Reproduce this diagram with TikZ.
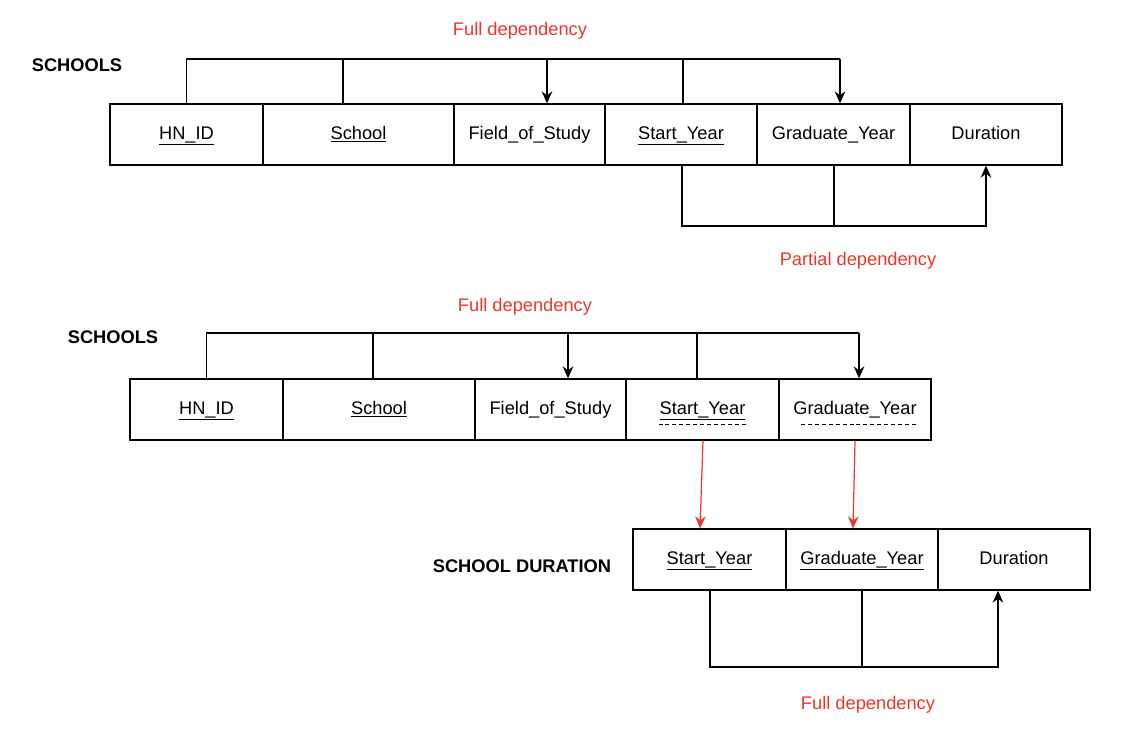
\documentclass[tikz,border=0pt]{standalone}
\usepackage{fontspec}
\setmainfont{Liberation Sans}
\usetikzlibrary{arrows.meta,calc}
\definecolor{depred}{RGB}{233,55,42}

\tikzset{
  cell/.style={draw, line width=1pt, inner sep=0pt, text height=10pt, text depth=3pt, minimum height=45.75pt, minimum width={#1*0.75pt}},
  dep/.style={line width=1pt},
  arr/.style={line width=1pt, -{Stealth[length=9pt, width=8pt, inset=3pt]}},
  redarr/.style={depred, line width=0.9pt, -{Stealth[length=9pt, width=8pt, inset=3pt]}},
  keydash/.style={line width=0.7pt, dash pattern=on 3pt off 2.2pt},
  deplabel/.style={text=depred},
  tablename/.style={font=\fontsize{13.7}{16}\selectfont\bfseries}
}

\begin{document}
\begin{tikzpicture}[x=0.75pt, y=-0.75pt, font=\fontsize{13.7}{16}\selectfont]
    \useasboundingbox (0,0) rectangle (1132,730);

    % first SCHOOLS table
    \node [tablename] (name1) at (77,65) {SCHOOLS};
    \node [cell=153] (hn1) at (186.5,134.5) {\underline{HN\_ID}};
    \node [cell=191] (sc1) at (358.5,134.5) {\underline{School}};
    \node [cell=151] (fs1) at (529.5,134.5) {Field\_of\_Study};
    \node [cell=152] (st1) at (681,134.5) {\underline{Start\_Year}};
    \node [cell=153] (gy1) at (833.5,134.5) {Graduate\_Year};
    \node [cell=152] (du1) at (986,134.5) {Duration};

    \coordinate (b1s) at (343,59);
    \coordinate (b1f) at (547,59);
    \coordinate (b1y) at (683,59);
    \coordinate (b1g) at (840,59);
    \draw [dep] (hn1.north) |- (b1g);
    \draw [dep] (b1s) -- (b1s |- sc1.north);
    \draw [dep] (b1y) -- (b1y |- st1.north);
    \draw [arr] (b1f) -- (b1f |- fs1.north);
    \draw [arr] (b1g) -- (b1g |- gy1.north);
    \node [deplabel] (full1) at (520,31) {Full dependency};

    \coordinate (p1s) at (682,226);
    \coordinate (p1g) at (834,226);
    \draw [dep] (p1s |- st1.south) -- (p1s) -- (p1g);
    \draw [dep] (p1g |- gy1.south) -- (p1g);
    \draw [arr] (p1g) -| (du1.south);
    \node [deplabel] (part1) at (858,261) {Partial dependency};

    % second SCHOOLS table
    \node [tablename] (name2) at (113,337) {SCHOOLS};
    \node [cell=153] (hn2) at (206.5,409.5) {\underline{HN\_ID}};
    \node [cell=192] (sc2) at (379,409.5) {\underline{School}};
    \node [cell=151] (fs2) at (550.5,409.5) {Field\_of\_Study};
    \node [cell=153] (st2) at (702.5,409.5) {\underline{Start\_Year}};
    \node [cell=152] (gy2) at (855,409.5) {Graduate\_Year};
    \draw [keydash] ($(st2.center)+(-44,14.5)$) -- ($(st2.center)+(43,14.5)$);
    \draw [keydash] ($(gy2.center)+(-54,14.5)$) -- ($(gy2.center)+(61,14.5)$);

    \coordinate (b2s) at (373,333);
    \coordinate (b2f) at (568,333);
    \coordinate (b2y) at (697,333);
    \coordinate (b2g) at (859,333);
    \draw [dep] (hn2.north) |- (b2g);
    \draw [dep] (b2s) -- (b2s |- sc2.north);
    \draw [dep] (b2y) -- (b2y |- st2.north);
    \draw [arr] (b2f) -- (b2f |- fs2.north);
    \draw [arr] (b2g) -- (b2g |- gy2.north);
    \node [deplabel] (full2) at (525,307) {Full dependency};

    % SCHOOL DURATION table
    \node [tablename] (name3) at (522,566) {SCHOOL DURATION};
    \node [cell=153] (st3) at (709.5,559.5) {\underline{Start\_Year}};
    \node [cell=152] (gy3) at (862,559.5) {\underline{Graduate\_Year}};
    \node [cell=152] (du3) at (1014,559.5) {Duration};

    \draw [redarr] ($(st2.south)+(0.5,0)$) -- ($(st3.north)+(-9.5,0)$);
    \draw [redarr] (gy2.south) -- ($(gy3.north)+(-9,0)$);

    \coordinate (p3s) at (710,667);
    \coordinate (p3g) at (862,667);
    \coordinate (p3d) at (998,667);
    \draw [dep] (p3s |- st3.south) -- (p3s) -- (p3g);
    \draw [dep] (gy3.south) -- (p3g);
    \draw [arr] (p3g) -- (p3d) -- (p3d |- du3.south);
    \node [deplabel] (full3) at (868,705) {Full dependency};
\end{tikzpicture}
\end{document}
